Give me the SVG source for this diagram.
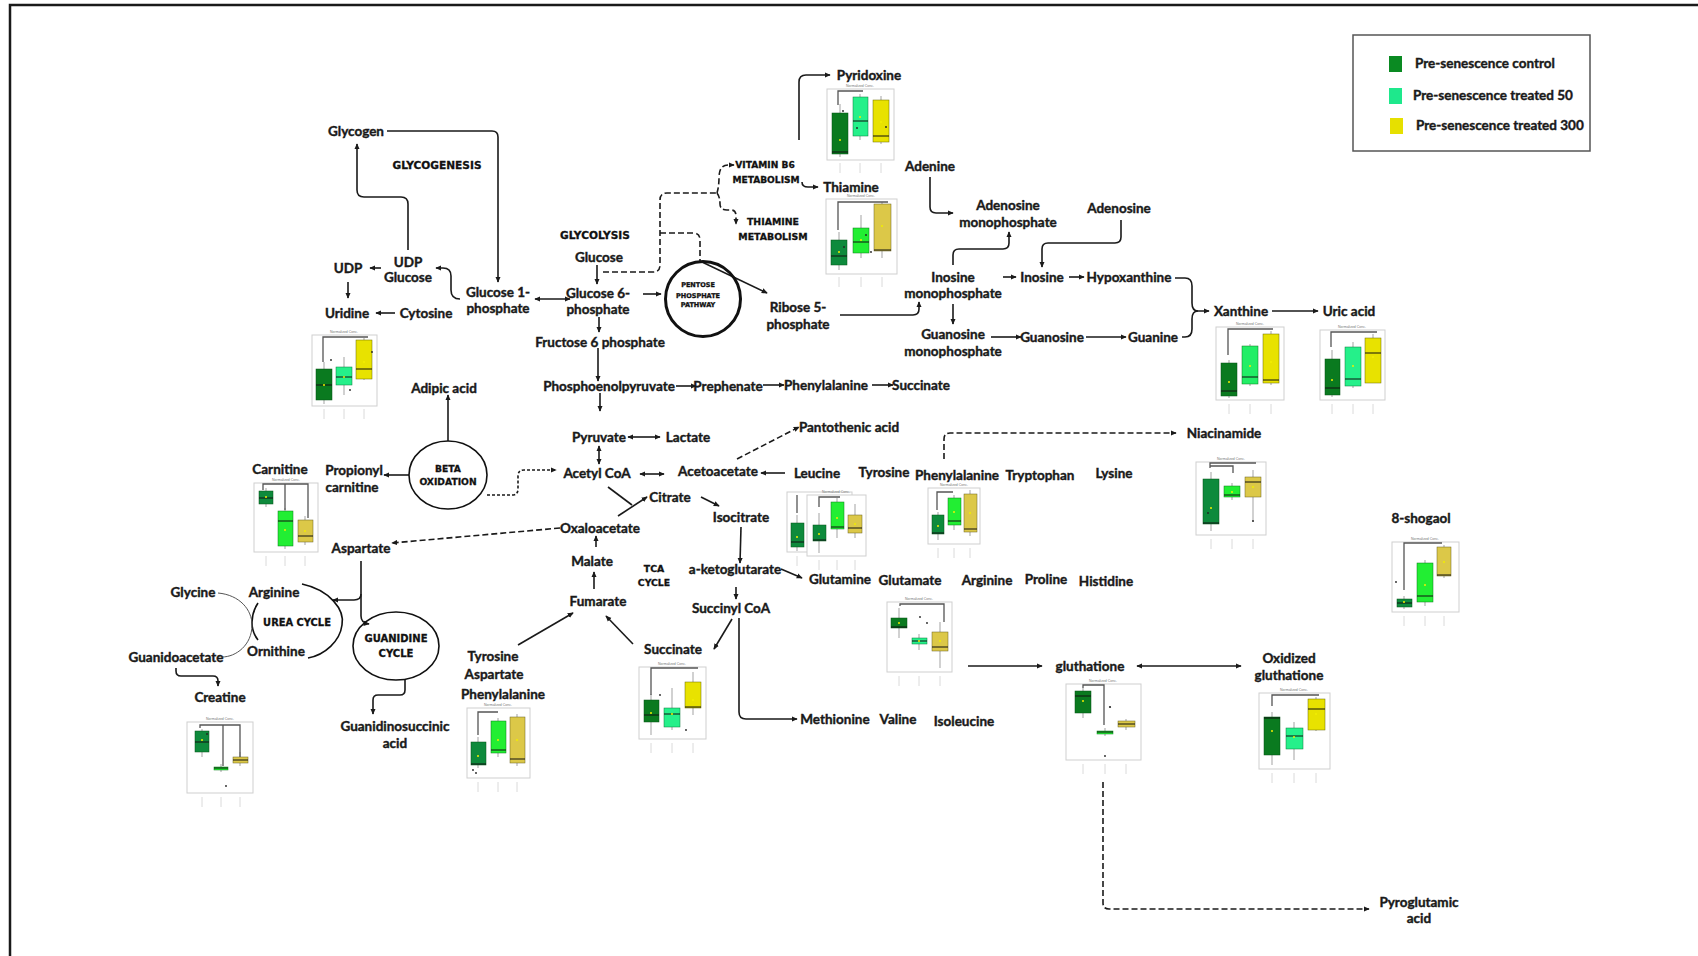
<svg xmlns="http://www.w3.org/2000/svg" width="1698" height="956" viewBox="0 0 1698 956">
<defs>
<style>
.t{font-family:Lato,"Open Sans","Liberation Sans",sans-serif;font-weight:700;font-size:13.5px;fill:#1a1a1a;stroke:#1a1a1a;stroke-width:0.4;text-anchor:middle}
.lg{font-family:Lato,"Open Sans","Liberation Sans",sans-serif;font-weight:700;font-size:13.5px;fill:#1a1a1a;stroke:#1a1a1a;stroke-width:0.4}
.cap{font-family:"DejaVu Sans","Liberation Sans",sans-serif;font-weight:700;fill:#111;stroke:#111;stroke-width:0.3;text-anchor:middle}
.c{fill:none;stroke:#1a1a1a;stroke-width:1.6}
.a{marker-end:url(#ah)}
.d2{marker-start:url(#ah);marker-end:url(#ah)}
.dash{stroke-dasharray:6 3}
.sdash{stroke-dasharray:3 2}
.pn{fill:#fff;stroke:#cfcfcf;stroke-width:1}
.ttl{font-family:"Liberation Sans",sans-serif;font-size:3.5px;fill:#777;text-anchor:middle}
.wk{fill:none;stroke:#666;stroke-width:0.6}
.md{stroke:#111;stroke-width:1}
.br{fill:none;stroke:#555;stroke-width:1.3}
.dt{fill:#222}
.mn{fill:#f2ee00}
.tk{fill:none;stroke:#d0d0d0;stroke-width:0.8}
.k1{fill:#0a7a1f;stroke:#075214;stroke-width:0.5}
.k1b{fill:#0e8a3c;stroke:#075214;stroke-width:0.5}
.m2{fill:#25f08a;stroke:#0a7a3a;stroke-width:0.5}
.b2{fill:#22ee33;stroke:#0a7a1a;stroke-width:0.5}
.y3{fill:#e8e200;stroke:#6a6a00;stroke-width:0.5}
.u3{fill:#dcc848;stroke:#6a6020;stroke-width:0.5}
</style>
<marker id="ah" viewBox="0 0 8 8" refX="7" refY="4" markerWidth="6" markerHeight="6" orient="auto-start-reverse" markerUnits="userSpaceOnUse">
<path d="M0,0.5 L8,4 L0,7.5z" fill="#1a1a1a"/>
</marker>
</defs>

<rect width="1698" height="956" fill="#fff"/>
<!-- page frame -->
<path d="M10,956 V5 H1698" fill="none" stroke="#1a1a1a" stroke-width="2.5"/>

<!-- legend -->
<g id="legend">
<rect x="1353" y="35" width="237" height="116" fill="#fff" stroke="#555" stroke-width="1.5"/>
<rect x="1389" y="56" width="13" height="16" fill="#0a8a22"/>
<rect x="1389" y="88" width="13" height="16" fill="#1ee88c"/>
<rect x="1390" y="118" width="13" height="16" fill="#e6e000"/>
<text class="lg" x="1415" y="68">Pre-senescence control</text>
<text class="lg" x="1413" y="100">Pre-senescence treated 50</text>
<text class="lg" x="1416" y="130">Pre-senescence treated 300</text>
</g>

<!-- connectors -->
<g id="connectors">
<path class="c a" d="M387,131 H492 Q498,131 498,137 V282"/>
<path class="c a" d="M408,250 V204 Q408,197 401,197 H364 Q357,197 357,190 V144"/>
<path class="c a" d="M381,268 H370"/>
<path class="c a" d="M460,299 Q451,299 451,290 V276 Q451,268 443,268 H436"/>
<path class="c a" d="M348,282 V298"/>
<path class="c a" d="M395,313 H376"/>
<path class="c d2" d="M535,299 H570"/>
<path class="c a" d="M597,265 V284"/>
<path class="c dash" d="M603,272 H653 Q660,272 660,265 V200 Q660,193 667,193 H717"/>
<path class="c dash a" d="M717,193 Q719,186 719,178 Q719,165 728,165 H734"/>
<path class="c dash a" d="M717,193 Q720,197 720,204 Q720,210 727,210 H731 Q736,210 736,216 V224"/>
<path class="c dash" d="M660,233 H693 Q700,233 700,240 V262"/>
<path class="c a" d="M643,294 H661"/>
<path class="c a" d="M702,262 L767,293"/>
<path class="c a" d="M599,317 V332"/>
<path class="c a" d="M598,348 V381"/>
<path class="c a" d="M676,386 H696"/>
<path class="c a" d="M763,385 H784"/>
<path class="c a" d="M872,385 H893"/>
<path class="c a" d="M600,393 V411"/>
<path class="c d2" d="M628,437 H660"/>
<path class="c d2" d="M599,446 V464"/>
<path class="c d2" d="M640,474 H664"/>
<path class="c a" d="M785,473 H761"/>
<path class="c dash a" d="M737,459 L799,427"/>
<path class="c sdash a" d="M487,495 H512 Q518,495 518,489 V476 Q518,470 524,470 H556"/>
<path class="c" d="M608,487 L632,505"/>
<path class="c a" d="M618,516 L647,497"/>
<path class="c a" d="M701,497 L719,506"/>
<path class="c a" d="M741,527 L740,563"/>
<path class="c a" d="M781,569 L802,578"/>
<path class="c a" d="M736,587 V599"/>
<path class="c a" d="M732,619 L714,649"/>
<path class="c a" d="M739,618 V712 Q739,719 746,719 H797"/>
<path class="c a" d="M633,644 L606,616"/>
<path class="c a" d="M518,645 L573,613"/>
<path class="c a" d="M594,589 V572"/>
<path class="c a" d="M596,547 V536"/>
<path class="c dash a" d="M560,528 L392,543"/>
<path class="c a" d="M448,441 V395"/>
<path class="c a" d="M409,475 H384"/>
<path class="c a" d="M361,561 V616 Q361,623 369,624"/>
<path class="c a" d="M361,594 Q361,600 354,600 H333"/>
<path class="c a" d="M176,668 V671 Q176,676 181,676 H213 Q218,676 218,681 V686"/>
<path class="c a" d="M405,679 V690 Q405,695 400,695 H378 Q373,695 373,700 V714"/>
<path class="c a" d="M802,182 Q802,187 808,187 H818"/>
<path class="c a" d="M799,140 V82 Q799,75 806,75 H830"/>
<path class="c a" d="M930,177 V207 Q930,213 936,213 H953"/>
<path class="c a" d="M953,265 V255 Q953,249 959,249 H1003 Q1009,249 1009,243 V232"/>
<path class="c a" d="M1121,220 V237 Q1121,243 1115,243 H1048 Q1042,243 1042,249 V267"/>
<path class="c a" d="M1003,277 H1016"/>
<path class="c a" d="M1069,277 H1084"/>
<path class="c" d="M1175,278 H1185 Q1192,278 1192,286 V303 Q1192,311 1198,311"/>
<path class="c a" d="M1182,337 H1185 Q1192,337 1192,329 V319 Q1192,311 1198,311 H1209"/>
<path class="c a" d="M1272,311 H1318"/>
<path class="c a" d="M840,315 H913 Q919,315 919,309 V302"/>
<path class="c a" d="M953,304 V324"/>
<path class="c a" d="M991,337 H1021"/>
<path class="c a" d="M1086,337 H1126"/>
<path class="c dash a" d="M944,459 V439 Q944,433 950,433 H1176"/>
<path class="c a" d="M968,666 H1042"/>
<path class="c d2" d="M1137,666 H1241"/>
<path class="c dash a" d="M1103,782 V903 Q1103,909 1109,909 H1369"/>
</g>

<!-- pathway circles -->
<g id="ppp">
<circle cx="703" cy="299" r="37.5" fill="none" stroke="#111" stroke-width="3"/>
<text class="cap" x="698" y="287" font-size="6.5">PENTOSE</text>
<text class="cap" x="698" y="297.5" font-size="6.5">PHOSPHATE</text>
<text class="cap" x="698" y="307" font-size="6.5">PATHWAY</text>
</g>
<g id="beta-oxidation">
<ellipse cx="448" cy="475" rx="39" ry="34" fill="none" stroke="#111" stroke-width="1.6"/>
<text class="cap" x="448" y="471.5" font-size="9.2">BETA</text>
<text class="cap" x="448" y="484.5" font-size="9.2">OXIDATION</text>
</g>
<g id="guanidine-cycle">
<ellipse cx="396" cy="646" rx="43" ry="34" fill="none" stroke="#111" stroke-width="1.6"/>
<text class="cap" x="396" y="642" font-size="10">GUANIDINE</text>
<text class="cap" x="396" y="657" font-size="10">CYCLE</text>
</g>
<g id="urea-cycle">
<path d="M302,584 C330,590 345,610 342,625 C340,641 325,655 308,658" fill="none" stroke="#111" stroke-width="1.6"/>
<path d="M258,603 C250,615 250,630 258,640" fill="none" stroke="#111" stroke-width="1.6"/>
<path d="M218,593 C240,595 252,610 252,625 C252,645 236,657 222,657" fill="none" stroke="#555" stroke-width="1"/>
<text class="cap" x="297" y="625.5" font-size="9.9">UREA CYCLE</text>
</g>

<!-- section titles -->
<g id="glycogenesis"><text class="cap" x="437" y="169" font-size="10.6">GLYCOGENESIS</text></g>
<g id="glycolysis"><text class="cap" x="595" y="239" font-size="10.6">GLYCOLYSIS</text></g>
<g id="vitamin-b6"><text class="cap" x="765" y="167.5" font-size="9.1">VITAMIN B6</text><text class="cap" x="766" y="182.5" font-size="9.1">METABOLISM</text></g>
<g id="thiamine-metabolism"><text class="cap" x="773" y="224.5" font-size="9.4">THIAMINE</text><text class="cap" x="773" y="239.5" font-size="9.4">METABOLISM</text></g>
<g id="tca-cycle"><text class="cap" x="654" y="571.5" font-size="9.3">TCA</text><text class="cap" x="654" y="585.5" font-size="9.3">CYCLE</text></g>

<!-- metabolite nodes -->
<g id="glycogen"><text class="t" x="356" y="136">Glycogen</text></g>
<g id="udp"><text class="t" x="348" y="273">UDP</text></g>
<g id="udp-glucose"><text class="t" x="408" y="267">UDP</text><text class="t" x="408" y="282">Glucose</text></g>
<g id="uridine"><text class="t" x="347" y="318">Uridine</text></g>
<g id="cytosine"><text class="t" x="426" y="318">Cytosine</text></g>
<g id="glucose-1p"><text class="t" x="498" y="297">Glucose 1-</text><text class="t" x="498" y="313">phosphate</text></g>
<g id="glucose"><text class="t" x="599" y="262">Glucose</text></g>
<g id="glucose-6p"><text class="t" x="598" y="298">Glucose 6-</text><text class="t" x="598" y="314">phosphate</text></g>
<g id="fructose-6p"><text class="t" x="600" y="347">Fructose 6 phosphate</text></g>
<g id="pep"><text class="t" x="609" y="391">Phosphoenolpyruvate</text></g>
<g id="prephenate"><text class="t" x="728" y="391">Prephenate</text></g>
<g id="phenylalanine-1"><text class="t" x="826" y="390">Phenylalanine</text></g>
<g id="succinate-1"><text class="t" x="921" y="390">Succinate</text></g>
<g id="pyridoxine"><text class="t" x="869" y="80">Pyridoxine</text></g>
<g id="thiamine"><text class="t" x="851" y="192">Thiamine</text></g>
<g id="adenine"><text class="t" x="930" y="171">Adenine</text></g>
<g id="amp"><text class="t" x="1008" y="210">Adenosine</text><text class="t" x="1008" y="227">monophosphate</text></g>
<g id="adenosine"><text class="t" x="1119" y="213">Adenosine</text></g>
<g id="imp"><text class="t" x="953" y="282">Inosine</text><text class="t" x="953" y="298">monophosphate</text></g>
<g id="inosine"><text class="t" x="1042" y="282">Inosine</text></g>
<g id="hypoxanthine"><text class="t" x="1129" y="282">Hypoxanthine</text></g>
<g id="ribose-5p"><text class="t" x="798" y="312">Ribose 5-</text><text class="t" x="798" y="329">phosphate</text></g>
<g id="gmp"><text class="t" x="953" y="339">Guanosine</text><text class="t" x="953" y="356">monophosphate</text></g>
<g id="guanosine"><text class="t" x="1052" y="342">Guanosine</text></g>
<g id="guanine"><text class="t" x="1153" y="342">Guanine</text></g>
<g id="xanthine"><text class="t" x="1241" y="316">Xanthine</text></g>
<g id="uric-acid"><text class="t" x="1349" y="316">Uric acid</text></g>
<g id="adipic-acid"><text class="t" x="444" y="393">Adipic acid</text></g>
<g id="pyruvate"><text class="t" x="599" y="442">Pyruvate</text></g>
<g id="lactate"><text class="t" x="688" y="442">Lactate</text></g>
<g id="pantothenic-acid"><text class="t" x="849" y="432">Pantothenic acid</text></g>
<g id="acetyl-coa"><text class="t" x="597" y="478">Acetyl CoA</text></g>
<g id="acetoacetate"><text class="t" x="718" y="476">Acetoacetate</text></g>
<g id="leucine"><text class="t" x="817" y="478">Leucine</text></g>
<g id="tyrosine-1"><text class="t" x="884" y="477">Tyrosine</text></g>
<g id="phenylalanine-2"><text class="t" x="957" y="480">Phenylalanine</text></g>
<g id="tryptophan"><text class="t" x="1040" y="480">Tryptophan</text></g>
<g id="lysine"><text class="t" x="1114" y="478">Lysine</text></g>
<g id="niacinamide"><text class="t" x="1224" y="438">Niacinamide</text></g>
<g id="carnitine"><text class="t" x="280" y="474">Carnitine</text></g>
<g id="propionyl-carnitine"><text class="t" x="354" y="475">Propionyl</text><text class="t" x="352" y="492">carnitine</text></g>
<g id="citrate"><text class="t" x="670" y="502">Citrate</text></g>
<g id="isocitrate"><text class="t" x="741" y="522">Isocitrate</text></g>
<g id="oxaloacetate"><text class="t" x="600" y="533">Oxaloacetate</text></g>
<g id="aspartate-1"><text class="t" x="361" y="553">Aspartate</text></g>
<g id="malate"><text class="t" x="592" y="566">Malate</text></g>
<g id="a-ketoglutarate"><text class="t" x="735" y="574">a-ketoglutarate</text></g>
<g id="glutamine"><text class="t" x="840" y="584">Glutamine</text></g>
<g id="glutamate"><text class="t" x="910" y="585">Glutamate</text></g>
<g id="arginine-1"><text class="t" x="987" y="585">Arginine</text></g>
<g id="proline"><text class="t" x="1046" y="584">Proline</text></g>
<g id="histidine"><text class="t" x="1106" y="586">Histidine</text></g>
<g id="shogaol"><text class="t" x="1421" y="523">8-shogaol</text></g>
<g id="fumarate"><text class="t" x="598" y="606">Fumarate</text></g>
<g id="succinyl-coa"><text class="t" x="731" y="613">Succinyl CoA</text></g>
<g id="glycine"><text class="t" x="193" y="597">Glycine</text></g>
<g id="arginine-2"><text class="t" x="274" y="597">Arginine</text></g>
<g id="ornithine"><text class="t" x="276" y="656">Ornithine</text></g>
<g id="guanidoacetate"><text class="t" x="176" y="662">Guanidoacetate</text></g>
<g id="creatine"><text class="t" x="220" y="702">Creatine</text></g>
<g id="tca-inputs"><text class="t" x="493" y="661">Tyrosine</text><text class="t" x="494" y="679">Aspartate</text><text class="t" x="503" y="699">Phenylalanine</text></g>
<g id="succinate-2"><text class="t" x="673" y="654">Succinate</text></g>
<g id="gluthatione"><text class="t" x="1090" y="671">gluthatione</text></g>
<g id="oxidized-gluthatione"><text class="t" x="1289" y="663">Oxidized</text><text class="t" x="1289" y="680">gluthatione</text></g>
<g id="methionine"><text class="t" x="835" y="724">Methionine</text></g>
<g id="valine"><text class="t" x="898" y="724">Valine</text></g>
<g id="isoleucine"><text class="t" x="964" y="726">Isoleucine</text></g>
<g id="guanidinosuccinic-acid"><text class="t" x="395" y="731">Guanidinosuccinic</text><text class="t" x="395" y="748">acid</text></g>
<g id="pyroglutamic-acid"><text class="t" x="1419" y="907">Pyroglutamic</text><text class="t" x="1419" y="923">acid</text></g>

<!-- box-plot panels -->
<g id="chart-udp">
<rect class="pn" x="312" y="335" width="65" height="71"/><text class="ttl" x="344" y="333">Normalized Conc.</text>
<path class="wk" d="M324,362V404M344,357V395M364,338V380"/>
<rect class="k1" x="316" y="369" width="16" height="31"/><rect class="m2" x="336" y="367" width="16" height="18"/><rect class="y3" x="356" y="340" width="16" height="39"/>
<path class="md" d="M316,385H332M336,377H352M356,369H372"/>
<path class="br" d="M323,362V337H368"/>
<circle class="mn" cx="324" cy="385" r="1"/><circle class="mn" cx="344" cy="377" r="1"/><circle class="mn" cx="364" cy="362" r="1"/>
<circle class="dt" cx="331" cy="360" r="0.9"/><circle class="dt" cx="350" cy="390" r="0.9"/><circle class="dt" cx="372" cy="352" r="0.9"/>
<path class="tk" d="M324,409V419M344,409V419M364,409V419"/>
</g>
<g id="chart-pyridoxine">
<rect class="pn" x="827" y="89" width="67" height="71"/><text class="ttl" x="860" y="87">Normalized Conc.</text>
<path class="wk" d="M840,104V157M860,94V140M881,96V144"/>
<rect class="k1" x="832" y="113" width="16" height="41"/><rect class="m2" x="853" y="97" width="15" height="39"/><rect class="y3" x="873" y="100" width="16" height="42"/>
<path class="md" d="M832,152H848M853,121H868M873,136H889"/>
<path class="br" d="M838,105V91H863"/>
<circle class="mn" cx="840" cy="140" r="1"/><circle class="mn" cx="860" cy="117" r="1"/><circle class="mn" cx="881" cy="122" r="1"/>
<circle class="dt" cx="843" cy="111" r="0.9"/><circle class="dt" cx="857" cy="128" r="0.9"/><circle class="dt" cx="886" cy="127" r="0.9"/>
<path class="tk" d="M840,163V173M860,163V173M881,163V173"/>
</g>
<g id="chart-thiamine">
<rect class="pn" x="826" y="199" width="71" height="75"/><text class="ttl" x="861" y="197">Normalized Conc.</text>
<path class="wk" d="M839,232V270M861,215V258M882,202V258"/>
<rect class="k1b" x="831" y="240" width="16" height="25"/><rect class="b2" x="853" y="228" width="16" height="25"/><rect class="u3" x="874" y="204" width="17" height="47"/>
<path class="md" d="M831,256H847M853,242H869M874,250H891"/>
<path class="br" d="M838,230V202H888"/>
<circle class="mn" cx="839" cy="252" r="1"/><circle class="mn" cx="861" cy="240" r="1"/><circle class="mn" cx="882" cy="226" r="1"/>
<circle class="dt" cx="844" cy="247" r="0.9"/><circle class="dt" cx="866" cy="235" r="0.9"/><circle class="dt" cx="871" cy="252" r="0.9"/>
<path class="tk" d="M839,277V287M861,277V287M882,277V287"/>
</g>
<g id="chart-xanthine">
<rect class="pn" x="1216" y="327" width="68" height="73"/><text class="ttl" x="1250" y="325">Normalized Conc.</text>
<path class="wk" d="M1229,360V398M1250,344V386M1271,331V385"/>
<rect class="k1" x="1221" y="363" width="16" height="33"/><rect class="b2" x="1242" y="346" width="16" height="38" style="fill:#22ee66"/><rect class="y3" x="1263" y="334" width="16" height="49"/>
<path class="md" d="M1221,391H1237M1242,377H1258M1263,380H1279"/>
<path class="br" d="M1228,355V329H1273"/>
<circle class="mn" cx="1229" cy="382" r="1"/><circle class="mn" cx="1250" cy="366" r="1"/><circle class="mn" cx="1271" cy="362" r="1"/>
<path class="tk" d="M1229,404V414M1250,404V414M1271,404V414"/>
</g>
<g id="chart-uric-acid">
<rect class="pn" x="1320" y="330" width="65" height="70"/><text class="ttl" x="1352" y="328">Normalized Conc.</text>
<path class="wk" d="M1332,350V397M1353,342V388M1373,334V383"/>
<rect class="k1" x="1325" y="359" width="15" height="36"/><rect class="m2" x="1345" y="347" width="16" height="39"/><rect class="y3" x="1365" y="338" width="16" height="45"/>
<path class="md" d="M1325,388H1340M1345,379H1361M1365,353H1381"/>
<path class="br" d="M1331,347V332H1377"/>
<circle class="mn" cx="1332" cy="380" r="1"/><circle class="mn" cx="1353" cy="366" r="1"/><circle class="mn" cx="1373" cy="357" r="1"/>
<path class="tk" d="M1332,404V414M1353,404V414M1373,404V414"/>
</g>
<g id="chart-carnitine">
<rect class="pn" x="254" y="483" width="64" height="69"/><text class="ttl" x="286" y="481">Normalized Conc.</text>
<path class="wk" d="M266,488V507M285,508V549M305,516V545"/>
<rect class="k1b" x="259" y="491" width="14" height="13"/><rect class="b2" x="278" y="511" width="15" height="35"/><rect class="u3" x="298" y="520" width="15" height="22"/>
<path class="md" d="M259,498H273M278,521H293M298,536H313"/>
<path class="br" d="M263,490V484H308V518M285,484V510"/>
<circle class="mn" cx="266" cy="497" r="1"/><circle class="mn" cx="285" cy="530" r="1"/><circle class="mn" cx="305" cy="531" r="1"/>
<path class="tk" d="M266,556V566M285,556V566M305,556V566"/>
</g>
<g id="chart-creatine">
<rect class="pn" x="187" y="722" width="66" height="71"/><text class="ttl" x="220" y="720">Normalized Conc.</text>
<path class="wk" d="M202,729V757M221,764V772M240,752V766"/>
<rect class="k1b" x="195" y="731" width="14" height="21"/><rect class="b2" x="214" y="767" width="14" height="3"/><rect class="u3" x="233" y="757" width="15" height="6"/>
<path class="md" d="M195,742H209M214,768H228M233,760H248"/>
<path class="br" d="M200,728V725H240V757M223,725V766"/>
<circle class="mn" cx="202" cy="740" r="1"/><circle class="dt" cx="207" cy="734" r="0.9"/><circle class="dt" cx="226" cy="786" r="0.9"/>
<path class="tk" d="M202,797V807M221,797V807M240,797V807"/>
</g>
<g id="chart-phenylalanine-tca">
<rect class="pn" x="467" y="708" width="63" height="70"/><text class="ttl" x="498" y="706">Normalized Conc.</text>
<path class="wk" d="M478,737V768M498,718V757M517,714V766"/>
<rect class="k1b" x="471" y="742" width="15" height="23"/><rect class="b2" x="491" y="721" width="15" height="32"/><rect class="u3" x="510" y="717" width="15" height="46"/>
<path class="md" d="M471,764H486M491,750H506M510,759H525"/>
<path class="br" d="M478,735V712H498"/>
<circle class="mn" cx="478" cy="756" r="1"/><circle class="mn" cx="498" cy="740" r="1"/><circle class="mn" cx="517" cy="740" r="1"/>
<circle class="dt" cx="473" cy="770" r="0.9"/><circle class="dt" cx="476" cy="773" r="0.9"/>
<path class="tk" d="M478,782V792M498,782V792M517,782V792"/>
</g>
<g id="chart-succinate">
<rect class="pn" x="639" y="667" width="67" height="72"/><text class="ttl" x="672" y="665">Normalized Conc.</text>
<path class="wk" d="M651,694V735M672,688V730M693,672V715"/>
<rect class="k1" x="644" y="700" width="15" height="22"/><rect class="m2" x="664" y="708" width="16" height="19"/><rect class="y3" x="685" y="682" width="16" height="26"/>
<path class="md" d="M644,715H659M664,714H680M685,707H701"/>
<path class="br" d="M651,695V668H698"/>
<circle class="mn" cx="651" cy="713" r="1"/><circle class="mn" cx="672" cy="714" r="1"/><circle class="mn" cx="693" cy="700" r="1"/>
<circle class="dt" cx="660" cy="695" r="0.9"/><circle class="dt" cx="686" cy="730" r="0.9"/>
<path class="tk" d="M651,743V753M672,743V753M693,743V753"/>
</g>
<g id="chart-leucine">
<rect class="pn" x="787" y="492" width="65" height="60"/>
<path class="wk" d="M797,515V551"/>
<rect class="k1b" x="791" y="523" width="13" height="24"/>
<path class="md" d="M791,542H804"/>
<path class="br" d="M797,513V495"/>
<circle class="mn" cx="797" cy="537" r="1"/>
<path class="tk" d="M797,556V566"/>
</g>
<g id="chart-tyrosine">
<rect class="pn" x="807" y="495" width="59" height="61"/><text class="ttl" x="836" y="493">Normalized Conc.</text>
<path class="wk" d="M819,513V553M837,498V538M855,504V538"/>
<rect class="k1b" x="813" y="525" width="13" height="16"/><rect class="b2" x="831" y="502" width="13" height="27"/><rect class="u3" x="848" y="515" width="14" height="18"/>
<path class="md" d="M813,540H826M831,527H844M848,528H862"/>
<path class="br" d="M819,507V497H840"/>
<circle class="mn" cx="819" cy="534" r="1"/><circle class="mn" cx="837" cy="518" r="1"/><circle class="mn" cx="855" cy="524" r="1"/>
<path class="tk" d="M819,560V570M837,560V570M855,560V570"/>
</g>
<g id="chart-phenylalanine">
<rect class="pn" x="928" y="488" width="52" height="56"/><text class="ttl" x="954" y="486">Normalized Conc.</text>
<path class="wk" d="M938,512V540M954,495V530M970,490V536"/>
<rect class="k1b" x="932" y="515" width="12" height="19"/><rect class="b2" x="948" y="498" width="13" height="27"/><rect class="u3" x="964" y="494" width="13" height="38"/>
<path class="md" d="M932,533H944M948,521H961M964,529H977"/>
<path class="br" d="M937,510V492H953"/>
<circle class="mn" cx="938" cy="526" r="1"/><circle class="mn" cx="954" cy="512" r="1"/><circle class="mn" cx="970" cy="513" r="1"/>
<path class="tk" d="M938,548V558M954,548V558M970,548V558"/>
</g>
<g id="chart-niacinamide">
<rect class="pn" x="1196" y="462" width="70" height="73"/><text class="ttl" x="1231" y="460">Normalized Conc.</text>
<path class="wk" d="M1211,472V531M1232,483V500M1253,470V522"/>
<rect class="k1b" x="1203" y="479" width="16" height="45"/><rect class="b2" x="1224" y="486" width="16" height="11"/><rect class="u3" x="1245" y="477" width="16" height="20"/>
<path class="md" d="M1203,523H1219M1224,495H1240M1245,482H1261"/>
<path class="br" d="M1210,468V463H1256M1210,466H1233V473"/>
<circle class="mn" cx="1211" cy="508" r="1"/><circle class="mn" cx="1232" cy="492" r="1"/><circle class="mn" cx="1253" cy="487" r="1"/>
<circle class="dt" cx="1208" cy="513" r="0.9"/><circle class="dt" cx="1253" cy="521" r="0.9"/>
<path class="tk" d="M1211,539V549M1232,539V549M1253,539V549"/>
</g>
<g id="chart-glutamate">
<rect class="pn" x="887" y="602" width="65" height="70"/><text class="ttl" x="919" y="600">Normalized Conc.</text>
<path class="wk" d="M899,608V638M919,634V650M940,622V668"/>
<rect class="k1" x="891" y="618" width="16" height="10"/><rect class="m2" x="912" y="638" width="15" height="6"/><rect class="u3" x="932" y="632" width="16" height="19"/>
<path class="md" d="M891,627H907M912,641H927M932,647H948"/>
<path class="br" d="M900,606V604H944V622"/>
<circle class="mn" cx="899" cy="623" r="1"/><circle class="mn" cx="919" cy="641" r="1"/><circle class="mn" cx="940" cy="641" r="1"/>
<circle class="dt" cx="920" cy="617" r="0.9"/><circle class="dt" cx="927" cy="623" r="0.9"/>
<path class="tk" d="M899,676V686M919,676V686M940,676V686"/>
</g>
<g id="chart-gluthatione">
<rect class="pn" x="1066" y="684" width="75" height="76"/><text class="ttl" x="1103" y="682">Normalized Conc.</text>
<path class="wk" d="M1083,688V718M1105,728V736M1126,719V730"/>
<rect class="k1" x="1075" y="691" width="16" height="22"/><rect class="b2" x="1097" y="731" width="16" height="3"/><rect class="u3" x="1118" y="721" width="17" height="6"/>
<path class="md" d="M1075,696H1091M1097,732H1113M1118,724H1135"/>
<path class="br" d="M1083,688V685H1104V725"/>
<circle class="mn" cx="1083" cy="701" r="1"/><circle class="dt" cx="1110" cy="707" r="1.1"/><circle class="dt" cx="1105" cy="756" r="0.9"/>
<path class="tk" d="M1083,764V774M1105,764V774M1126,764V774"/>
</g>
<g id="chart-oxidized-gluthatione">
<rect class="pn" x="1259" y="693" width="71" height="76"/><text class="ttl" x="1294" y="691">Normalized Conc.</text>
<path class="wk" d="M1272,712V765M1294,722V760M1316,697V731"/>
<rect class="k1" x="1264" y="717" width="16" height="38"/><rect class="m2" x="1286" y="728" width="17" height="21"/><rect class="y3" x="1308" y="699" width="17" height="31"/>
<path class="md" d="M1264,718H1280M1286,736H1303M1308,709H1325"/>
<path class="br" d="M1272,706V695H1319"/>
<circle class="mn" cx="1272" cy="731" r="1"/><circle class="mn" cx="1294" cy="737" r="1"/><circle class="mn" cx="1316" cy="714" r="1"/>
<path class="tk" d="M1272,773V783M1294,773V783M1316,773V783"/>
</g>
<g id="chart-shogaol">
<rect class="pn" x="1392" y="542" width="67" height="70"/><text class="ttl" x="1425" y="540">Normalized Conc.</text>
<path class="wk" d="M1404,596V609M1425,560V606M1444,545V578"/>
<rect class="k1b" x="1397" y="599" width="15" height="8"/><rect class="b2" x="1417" y="563" width="16" height="39"/><rect class="u3" x="1437" y="547" width="14" height="29"/>
<path class="md" d="M1397,603H1412M1417,596H1433M1437,575H1451"/>
<path class="br" d="M1404,590V543H1442"/>
<circle class="mn" cx="1404" cy="602" r="1"/><circle class="mn" cx="1425" cy="585" r="1"/><circle class="mn" cx="1444" cy="562" r="1"/>
<circle class="dt" cx="1396" cy="582" r="0.9"/>
<path class="tk" d="M1404,616V626M1425,616V626M1444,616V626"/>
</g>
</svg>
